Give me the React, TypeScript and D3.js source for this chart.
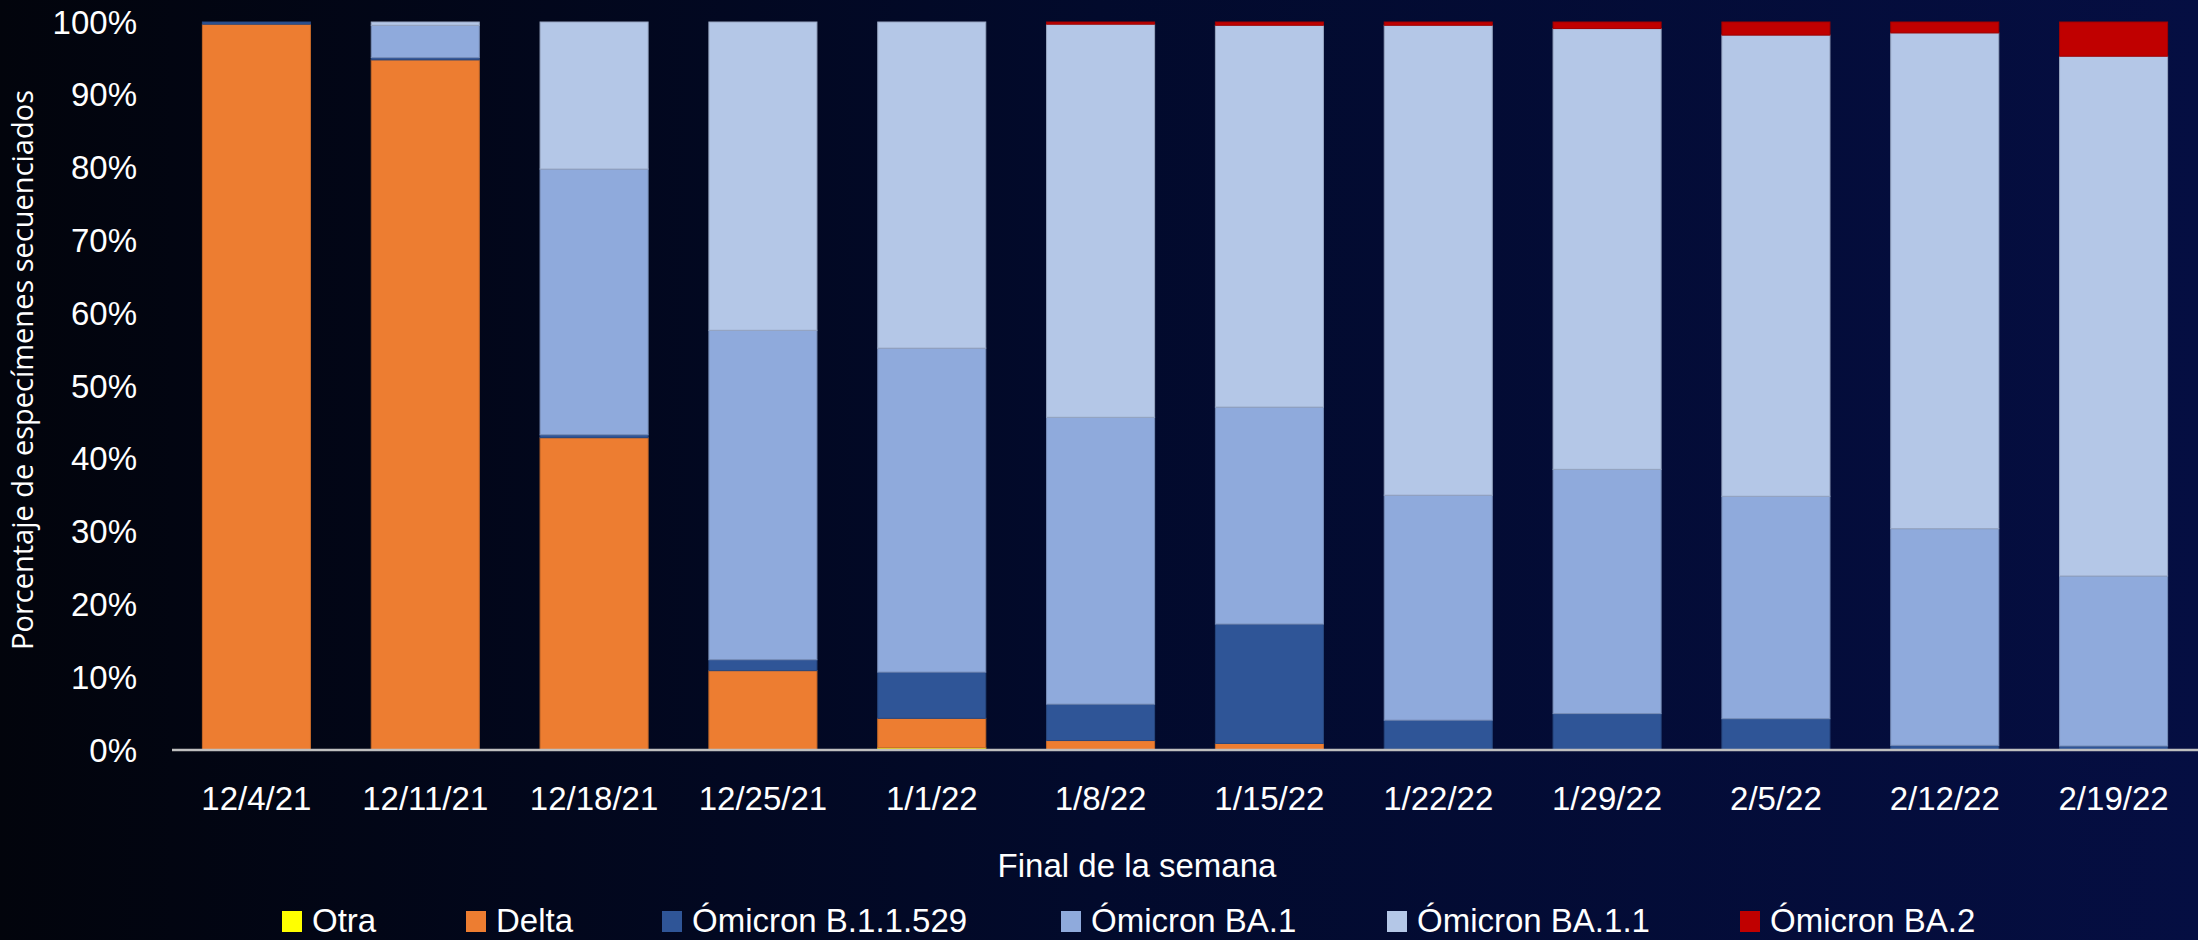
import React, { useEffect } from "react";
import * as d3 from "d3";

// Week ending dates (categories)
const weeks = [
    "12/4/21", "12/11/21", "12/18/21", "12/25/21", "1/1/22", "1/8/22",
    "1/15/22", "1/22/22", "1/29/22", "2/5/22", "2/12/22", "2/19/22",
];

// Share of sequenced specimens per variant, in percent
const otra = [0, 0, 0, 0, 0.3, 0, 0, 0, 0, 0, 0, 0];
const delta = [99.7, 94.8, 42.9, 10.9, 4.05, 1.3, 0.9, 0.1, 0, 0, 0, 0];
const omicronB11529 = [0.3, 0.3, 0.4, 1.5, 6.35, 5.0, 16.4, 4.0, 5.0, 4.3, 0.64, 0.55];
const omicronBA1 = [0, 4.45, 36.5, 45.25, 44.5, 39.4, 29.8, 30.9, 33.55, 30.55, 29.76, 23.35];
const omicronBA11 = [0, 0.45, 20.2, 42.35, 44.8, 54.0, 52.45, 64.55, 60.55, 63.35, 68.1, 71.4];
const omicronBA2 = [0, 0, 0, 0, 0, 0.3, 0.45, 0.45, 0.9, 1.8, 1.5, 4.7];

const seriesNames = ["Otra", "Delta", "Ómicron B.1.1.529", "Ómicron BA.1", "Ómicron BA.1.1", "Ómicron BA.2"];
const seriesValues = [otra, delta, omicronB11529, omicronBA1, omicronBA11, omicronBA2];
const seriesColors = ["#FFFF00", "#ED7D31", "#2F5597", "#8FAADC", "#B4C7E7", "#C00000"];

const yTicks = [0, 10, 20, 30, 40, 50, 60, 70, 80, 90, 100];

// Layout
const width = 2198;
const height = 940;
const plot = { left: 172, right: 2198, top: 22, bottom: 750 };
const legendX = [282, 466, 662, 1061, 1387, 1740];

const labelFont = "'Liberation Sans', Arial, sans-serif";
const titleFont = "'Open Sans', 'Noto Sans', sans-serif";

export default function App() {
    useEffect(() => {
        // remove the default body margin so the svg sits at 0,0
        document.body.style.margin = "0";
        document.body.style.overflow = "hidden";
    }, []);

    const rows = weeks.map((w, i) => {
        const row: any = { week: w };
        seriesNames.forEach((name, k) => { row[name] = seriesValues[k][i]; });
        return row;
    });

    const stacked = d3.stack().keys(seriesNames)(rows);

    const x = d3.scaleBand()
        .domain(weeks)
        .range([plot.left, plot.right])
        .paddingInner(0.36)
        .paddingOuter(0.18);

    const y = d3.scaleLinear()
        .domain([0, 100])
        .range([plot.bottom, plot.top]);

    return (
        <svg width={width} height={height} style={{ display: "block" }}>
            <defs>
                <linearGradient id="bg" x1="0" y1="0" x2="1" y2="0">
                    <stop offset="0%" stopColor="#02040c" />
                    <stop offset="50%" stopColor="#020a2c" />
                    <stop offset="100%" stopColor="#050e42" />
                </linearGradient>
            </defs>
            <rect x={0} y={0} width={width} height={height} fill="url(#bg)" />

            {/* stacked bars */}
            {stacked.map((layer, k) => (
                <g key={layer.key}>
                    {layer.map((d, i) => {
                        const h = y(d[0]) - y(d[1]);
                        if (h <= 0) return null;
                        return (
                            <rect
                                key={i}
                                x={x(weeks[i])}
                                y={y(d[1])}
                                width={x.bandwidth()}
                                height={h}
                                fill={seriesColors[k]}
                                stroke={d3.color(seriesColors[k]).darker(0.5).formatHex()}
                                strokeWidth={1}
                            />
                        );
                    })}
                </g>
            ))}

            {/* x axis line */}
            <line x1={plot.left} x2={plot.right} y1={y(0)} y2={y(0)} stroke="#bfbfbf" strokeWidth={2.5} />

            {/* y tick labels */}
            {yTicks.map(t => (
                <text
                    key={t}
                    x={137}
                    y={y(t)}
                    dy="0.35em"
                    textAnchor="end"
                    fill="#ffffff"
                    fontFamily={labelFont}
                    fontSize={33}
                >
                    {t + "%"}
                </text>
            ))}

            {/* x tick labels */}
            {weeks.map(w => (
                <text
                    key={w}
                    x={x(w) + x.bandwidth() / 2}
                    y={810}
                    textAnchor="middle"
                    fill="#ffffff"
                    fontFamily={labelFont}
                    fontSize={33}
                >
                    {w}
                </text>
            ))}

            {/* axis titles */}
            <text x={1137} y={877} textAnchor="middle" fill="#ffffff" fontFamily={labelFont} fontSize={33}>
                Final de la semana
            </text>
            <text
                transform={`translate(33, 370) rotate(-90)`}
                textAnchor="middle"
                fill="#ffffff"
                fontFamily={titleFont}
                fontSize={29}
            >
                Porcentaje de especímenes secuenciados
            </text>

            {/* legend */}
            {seriesNames.map((name, k) => (
                <g key={name} transform={`translate(${legendX[k]}, 911)`}>
                    <rect x={0} y={0} width={20} height={21} fill={seriesColors[k]} />
                    <text x={30} y={21} fill="#ffffff" fontFamily={labelFont} fontSize={33}>
                        {name}
                    </text>
                </g>
            ))}
        </svg>
    );
}
